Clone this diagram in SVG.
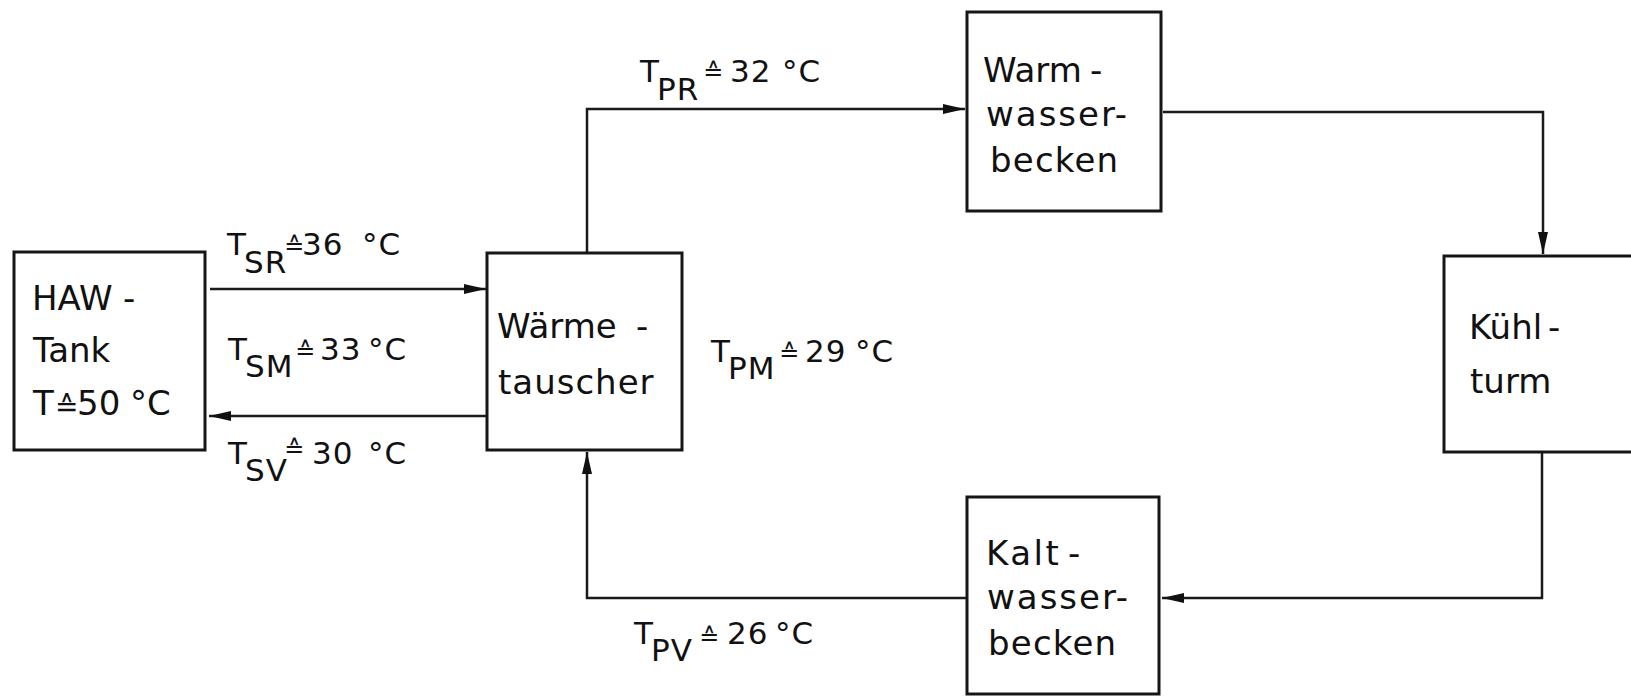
<svg xmlns="http://www.w3.org/2000/svg" width="1631" height="696" viewBox="0 0 1631 696">
<style>
.box{fill:none;stroke:#161616;stroke-width:3}
.conn{fill:none;stroke:#1a1a1a;stroke-width:2.5}
.t{font-family:"DejaVu Sans","Liberation Sans",sans-serif;font-size:34px;fill:#111}
.l{font-family:"DejaVu Sans","Liberation Sans",sans-serif;font-size:31px;fill:#111;letter-spacing:1px}
.eq{font-size:24px;letter-spacing:0}
</style>
<defs>
<marker id="ah" markerUnits="userSpaceOnUse" markerWidth="24" markerHeight="12" refX="22" refY="5" orient="auto">
<path d="M0,0 L22,5 L0,10 z" fill="#111"/>
</marker>
</defs>
<rect width="1631" height="696" fill="#ffffff"/>
<g id="connectors">
<path class="conn" d="M210,289 H486" marker-end="url(#ah)"/>
<path class="conn" d="M487,416 H209" marker-end="url(#ah)"/>
<path class="conn" d="M587,253 V109 H965" marker-end="url(#ah)"/>
<path class="conn" d="M1163,112 H1543 V254" marker-end="url(#ah)"/>
<path class="conn" d="M1542,452 V598 H1162" marker-end="url(#ah)"/>
<path class="conn" d="M966,598 H587 V452" marker-end="url(#ah)"/>
</g>
<g id="labels">
<text class="l"><tspan x="227" y="255">T</tspan><tspan x="244" y="273">SR</tspan><tspan class="eq" x="284" y="254">≙</tspan><tspan x="302" y="255">36</tspan><tspan x="362" y="255">°C</tspan></text>
<text class="l"><tspan x="228" y="360">T</tspan><tspan x="245" y="377">SM</tspan><tspan class="eq" x="295" y="359">≙</tspan><tspan x="320" y="360">33</tspan><tspan x="368" y="360">°C</tspan></text>
<text class="l"><tspan x="228" y="464">T</tspan><tspan x="245" y="481">SV</tspan><tspan class="eq" x="284" y="457">≙</tspan><tspan x="312" y="464">30</tspan><tspan x="368" y="464">°C</tspan></text>
<text class="l"><tspan x="640" y="82">T</tspan><tspan x="657" y="100">PR</tspan><tspan class="eq" x="703" y="80">≙</tspan><tspan x="730" y="82">32</tspan><tspan x="782" y="82">°C</tspan></text>
<text class="l"><tspan x="711" y="362">T</tspan><tspan x="728" y="379">PM</tspan><tspan class="eq" x="779" y="361">≙</tspan><tspan x="805" y="362">29</tspan><tspan x="855" y="362">°C</tspan></text>
<text class="l"><tspan x="634" y="644">T</tspan><tspan x="651" y="661">PV</tspan><tspan class="eq" x="699" y="645">≙</tspan><tspan x="727" y="644">26</tspan><tspan x="775" y="644">°C</tspan></text>
</g>
<g id="haw-tank">
<rect class="box" x="14" y="252" width="191" height="198"/>
<text class="t"><tspan x="32" y="310">HAW</tspan><tspan x="123" y="310">-</tspan></text>
<text class="t" x="33" y="362">Tank</text>
<text class="t"><tspan x="33" y="415">T</tspan><tspan x="55" y="416" style="font-size:28px">≙</tspan><tspan x="77" y="415">50</tspan><tspan x="130" y="415">°C</tspan></text>
</g>
<g id="waermetauscher">
<rect class="box" x="487" y="253" width="195" height="197"/>
<text class="t"><tspan x="497" y="338">Wärme</tspan><tspan x="636" y="338">-</tspan></text>
<text class="t" x="498" y="394" style="letter-spacing:1px">tauscher</text>
</g>
<g id="warmwasserbecken">
<rect class="box" x="967" y="12" width="194" height="199"/>
<text class="t"><tspan x="983" y="82">Warm</tspan><tspan x="1090" y="82">-</tspan></text>
<text class="t" x="986" y="126" style="letter-spacing:2px">wasser-</text>
<text class="t" x="990" y="172" style="letter-spacing:1.2px">becken</text>
</g>
<g id="kuehlturm">
<rect class="box" x="1444" y="256" width="200" height="196"/>
<text class="t"><tspan x="1469" y="339">Kühl</tspan><tspan x="1548" y="339">-</tspan></text>
<text class="t" x="1470" y="393">turm</text>
</g>
<g id="kaltwasserbecken">
<rect class="box" x="967" y="497" width="192" height="197"/>
<text class="t" style="letter-spacing:2.5px"><tspan x="986" y="565">Kalt</tspan><tspan x="1068" y="565">-</tspan></text>
<text class="t" x="987" y="609" style="letter-spacing:2px">wasser-</text>
<text class="t" x="988" y="655" style="letter-spacing:1.2px">becken</text>
</g>
</svg>
